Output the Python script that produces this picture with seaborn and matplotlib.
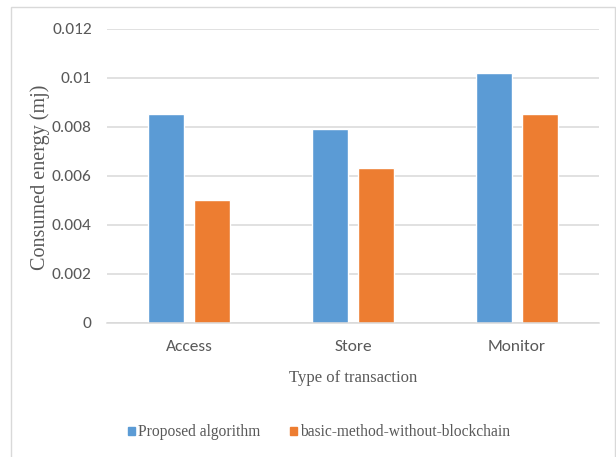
import matplotlib
matplotlib.use("Agg")
import matplotlib.pyplot as plt
import matplotlib.patches as mpatches
import seaborn as sns
import pandas as pd

# Energy consumed per transaction type (mJ)
transactions = ["Access", "Store", "Monitor"]
proposed = [0.0085, 0.0079, 0.0102]
baseline = [0.0050, 0.0063, 0.0085]
series_names = ["Proposed algorithm", "basic-method-without-blockchain"]
y_ticks = [0, 0.002, 0.004, 0.006, 0.008, 0.01, 0.012]
y_tick_labels = ["0", "0.002", "0.004", "0.006", "0.008", "0.01", "0.012"]

df = pd.DataFrame({
    "Type of transaction": transactions * 2,
    "Energy": proposed + baseline,
    "Method": [series_names[0]] * 3 + [series_names[1]] * 3,
})

sns.set_theme(style="white")
plt.rcParams["font.family"] = ["DejaVu Sans"]

SANS = ["Carlito", "DejaVu Sans"]
SERIF = ["Liberation Serif", "DejaVu Serif"]
text_gray = "#595959"
grid_gray = "#d9d9d9"
palette = {series_names[0]: "#5B9BD5", series_names[1]: "#ED7D31"}

fig = plt.figure(figsize=(6.16, 4.57), dpi=100)
ax = fig.add_axes([107 / 616, 1 - 322.7 / 457, 492 / 616, (322.7 - 28.5) / 457])

sns.barplot(data=df, x="Type of transaction", y="Energy", hue="Method",
            palette=palette, width=0.57, gap=0.23, saturation=1,
            legend=False, ax=ax)

ax.set_xlim(-0.5, 2.5)
ax.set_ylim(0, 0.012)
ax.set_yticks(y_ticks)
ax.set_yticklabels(y_tick_labels)
ax.yaxis.grid(True, color=grid_gray, linewidth=1.1)
ax.set_axisbelow(True)
for s in ["top", "right", "left"]:
    ax.spines[s].set_visible(False)
ax.spines["bottom"].set_color(grid_gray)
ax.spines["bottom"].set_linewidth(1.1)
ax.tick_params(axis="both", length=0, colors=text_gray, labelsize=12.5)
ax.tick_params(axis="y", pad=11)
ax.tick_params(axis="x", pad=12.5)
for lab in ax.get_xticklabels() + ax.get_yticklabels():
    lab.set_family(SANS)

ax.set_xlabel("Type of transaction", family=SERIF, fontsize=12, color=text_gray,
              va="center")
ax.xaxis.set_label_coords(0.5, -0.188)
ax.set_ylabel("Consumed energy (mj)", family=SERIF, fontsize=14.5, color=text_gray,
              va="center")
ax.yaxis.set_label_coords(-0.135, 0.495)

handles = [mpatches.Patch(color=palette[n], label=n) for n in series_names]
fig.legend(handles=handles, loc="center", bbox_to_anchor=(319 / 616, 1 - 432.5 / 457),
           ncol=2, frameon=False, handlelength=0.45, handleheight=0.45,
           handletextpad=0.2, columnspacing=1.9, borderaxespad=0, borderpad=0,
           prop={"family": SERIF, "size": 11.2},
           labelcolor=text_gray)

# Thin frame around the chart area
fig.add_artist(mpatches.Rectangle((11 / 616, -0.01), (615 - 11) / 616, 1 - 7 / 457 + 0.01,
                                  transform=fig.transFigure, fill=False,
                                  edgecolor=grid_gray, linewidth=1.0))

fig.savefig("out.png", dpi=100, facecolor="white")
